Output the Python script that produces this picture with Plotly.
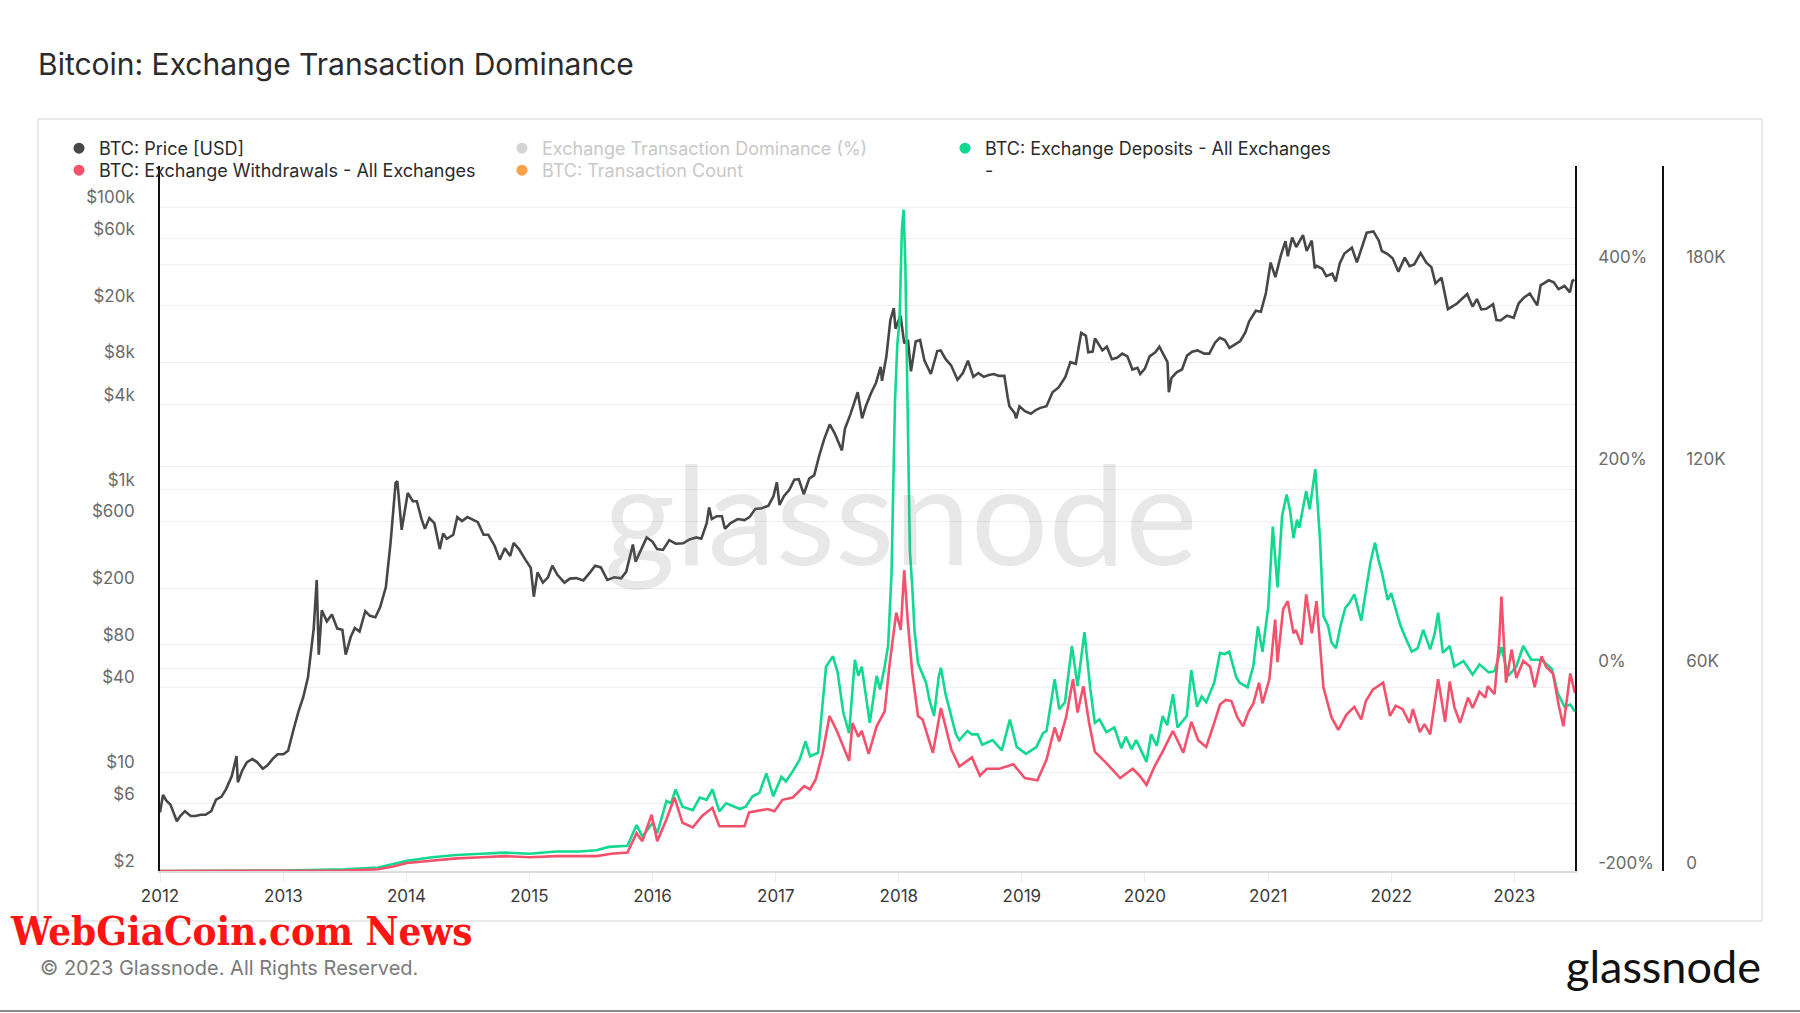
import math
import pandas as pd
import plotly.graph_objects as go

# ---------------- data ----------------
price_dates = [
    "2012-01-01", "2012-01-10", "2012-01-20", "2012-02-01", "2012-02-20", "2012-03-01", "2012-03-15",
    "2012-04-01", "2012-04-15", "2012-05-01", "2012-05-15", "2012-06-01", "2012-06-15", "2012-07-01",
    "2012-07-15", "2012-08-01", "2012-08-15", "2012-08-19", "2012-09-01", "2012-09-15", "2012-10-01",
    "2012-10-15", "2012-11-01", "2012-11-15", "2012-12-01", "2012-12-15", "2013-01-01", "2013-01-15",
    "2013-02-01", "2013-02-15", "2013-03-01", "2013-03-15", "2013-04-01", "2013-04-10", "2013-04-16",
    "2013-04-25", "2013-05-10", "2013-05-25", "2013-06-10", "2013-06-25", "2013-07-05", "2013-07-20",
    "2013-08-01", "2013-08-15", "2013-09-01", "2013-09-15", "2013-10-01", "2013-10-15", "2013-11-01",
    "2013-11-15", "2013-11-30", "2013-12-05", "2013-12-18", "2013-12-25", "2014-01-05", "2014-01-20",
    "2014-02-01", "2014-02-15", "2014-02-25", "2014-03-10", "2014-03-25", "2014-04-10", "2014-04-20",
    "2014-05-01", "2014-05-20", "2014-06-01", "2014-06-15", "2014-07-01", "2014-07-15", "2014-08-01",
    "2014-08-18", "2014-09-01", "2014-09-20", "2014-10-05", "2014-10-20", "2014-11-05", "2014-11-15",
    "2014-12-01", "2014-12-20", "2015-01-05", "2015-01-14", "2015-01-25", "2015-02-10", "2015-02-25",
    "2015-03-10", "2015-03-25", "2015-04-15", "2015-05-01", "2015-05-20", "2015-06-10", "2015-06-30",
    "2015-07-15", "2015-08-01", "2015-08-20", "2015-09-10", "2015-09-30", "2015-10-15", "2015-11-04",
    "2015-11-12", "2015-11-25", "2015-12-15", "2016-01-01", "2016-01-15", "2016-02-01", "2016-02-20",
    "2016-03-10", "2016-04-01", "2016-04-20", "2016-05-10", "2016-05-25", "2016-06-10", "2016-06-17",
    "2016-06-25", "2016-07-10", "2016-07-25", "2016-08-03", "2016-08-20", "2016-09-10", "2016-09-30",
    "2016-10-15", "2016-11-01", "2016-11-20", "2016-12-10", "2016-12-25", "2017-01-04", "2017-01-12",
    "2017-01-25", "2017-02-10", "2017-02-25", "2017-03-10", "2017-03-25", "2017-04-10", "2017-04-25",
    "2017-05-10", "2017-05-25", "2017-06-10", "2017-06-25", "2017-07-16", "2017-07-25", "2017-08-10",
    "2017-08-30", "2017-09-01", "2017-09-14", "2017-09-25", "2017-10-10", "2017-10-25", "2017-11-08",
    "2017-11-12", "2017-11-25", "2017-12-07", "2017-12-17", "2017-12-22", "2018-01-06", "2018-01-17",
    "2018-01-28", "2018-02-06", "2018-02-20", "2018-03-05", "2018-03-18", "2018-04-01", "2018-04-06",
    "2018-04-25", "2018-05-05", "2018-05-20", "2018-06-05", "2018-06-24", "2018-07-10", "2018-07-25",
    "2018-08-10", "2018-08-25", "2018-09-10", "2018-09-25", "2018-10-10", "2018-10-25", "2018-11-10",
    "2018-11-20", "2018-11-25", "2018-12-10", "2018-12-15", "2018-12-25", "2019-01-10", "2019-01-28",
    "2019-02-10", "2019-02-25", "2019-03-15", "2019-04-02", "2019-04-20", "2019-05-10", "2019-05-25",
    "2019-06-10", "2019-06-26", "2019-07-10", "2019-07-17", "2019-07-30", "2019-08-06", "2019-08-28",
    "2019-09-10", "2019-09-25", "2019-10-10", "2019-10-26", "2019-11-10", "2019-11-25", "2019-12-10",
    "2019-12-18", "2020-01-01", "2020-01-15", "2020-02-01", "2020-02-13", "2020-02-28", "2020-03-08",
    "2020-03-12", "2020-03-20", "2020-04-05", "2020-04-20", "2020-05-05", "2020-05-20", "2020-06-05",
    "2020-06-25", "2020-07-10", "2020-07-27", "2020-08-10", "2020-08-25", "2020-09-08", "2020-09-25",
    "2020-10-10", "2020-10-25", "2020-11-05", "2020-11-25", "2020-12-10", "2020-12-25", "2021-01-08",
    "2021-01-22", "2021-02-08", "2021-02-21", "2021-02-28", "2021-03-13", "2021-03-25", "2021-04-14",
    "2021-04-25", "2021-05-10", "2021-05-19", "2021-05-25", "2021-06-10", "2021-06-22", "2021-07-10",
    "2021-07-20", "2021-08-01", "2021-08-15", "2021-09-06", "2021-09-21", "2021-10-05", "2021-10-20",
    "2021-11-09", "2021-11-25", "2021-12-04", "2021-12-20", "2022-01-05", "2022-01-22", "2022-02-10",
    "2022-02-24", "2022-03-10", "2022-03-29", "2022-04-15", "2022-04-30", "2022-05-12", "2022-05-30",
    "2022-06-18", "2022-06-30", "2022-07-15", "2022-08-14", "2022-08-30", "2022-09-12", "2022-09-25",
    "2022-10-10", "2022-10-30", "2022-11-09", "2022-11-21", "2022-12-10", "2022-12-30", "2023-01-14",
    "2023-01-30", "2023-02-16", "2023-03-10", "2023-03-20", "2023-04-13", "2023-04-28", "2023-05-12",
    "2023-05-30", "2023-06-15", "2023-06-22", "2023-06-28",
]
price_usd = [
    5.2, 6.9, 6.3, 5.9, 4.5, 4.9, 5.3,
    4.9, 4.9, 5.0, 5.0, 5.3, 6.4, 6.7,
    7.6, 9.4, 13.0, 8.5, 10.3, 11.8, 12.4,
    11.8, 10.6, 11.2, 12.5, 13.4, 13.4, 14.2,
    20.4, 27, 34, 47, 104, 230, 68,
    140, 117, 131, 104, 102, 68, 91,
    105, 99, 138, 128, 125, 147, 204,
    420, 1120, 1150, 520, 680, 950, 830,
    830, 620, 530, 630, 580, 380, 490,
    450, 480, 640, 600, 640, 620, 590,
    480, 480, 400, 320, 385, 340, 420,
    380, 320, 280, 175, 260, 220, 240,
    290, 250, 220, 235, 237, 228, 260,
    290, 282, 230, 240, 236, 262, 410,
    310, 360, 460, 430, 380, 375, 440,
    415, 418, 445, 460, 450, 580, 750,
    620, 650, 650, 530, 580, 620, 610,
    640, 730, 740, 770, 900, 1130, 780,
    900, 1000, 1180, 1190, 930, 1200, 1270,
    1750, 2300, 2900, 2500, 1900, 2700, 3400,
    4600, 4900, 3200, 3900, 4800, 5700, 7400,
    5900, 8800, 16000, 19300, 13800, 17100, 10900,
    11500, 6900, 11200, 11500, 8200, 6900, 6600,
    9600, 9700, 8400, 7600, 6000, 6700, 8200,
    6300, 6700, 6300, 6500, 6600, 6400, 6400,
    4500, 3900, 3500, 3200, 3900, 3600, 3450,
    3650, 3800, 3900, 4900, 5300, 6300, 8000,
    7800, 12900, 12300, 9400, 9500, 11800, 9700,
    10300, 8400, 8600, 9200, 8800, 7100, 7300,
    6600, 7200, 8800, 9400, 10300, 8700, 8000,
    4900, 6200, 6800, 7100, 8900, 9500, 9700,
    9200, 9200, 11000, 11900, 11500, 10100, 10700,
    11300, 13000, 15500, 18500, 18200, 24700, 40600,
    32000, 46200, 57500, 45000, 61000, 52300, 63500,
    49000, 58000, 37000, 38400, 36700, 32500, 33800,
    29800, 40000, 47000, 51700, 40700, 51000, 66000,
    67500, 58000, 49000, 46800, 43500, 35000, 44000,
    38300, 39400, 47400, 40500, 37700, 28900, 31700,
    19000, 19900, 20800, 24300, 19800, 22400, 18900,
    19100, 20600, 15900, 15800, 17100, 16500, 20900,
    23000, 24500, 20200, 28000, 30400, 29400, 26300,
    27700, 25000, 30000, 30700,
]

# Exchange deposits (count, thousands) - time as decimal year
deposits_year = [
    2012.000, 2013.007, 2013.502, 2013.772, 2013.894, 2014.006, 2014.211, 2014.407, 2014.612, 2014.799,
    2015.004, 2015.218, 2015.405, 2015.545, 2015.647, 2015.797, 2015.871, 2015.918, 2016.002, 2016.039,
    2016.114, 2016.151, 2016.188, 2016.244, 2016.328, 2016.384, 2016.440, 2016.487, 2016.543, 2016.599,
    2016.711, 2016.757, 2016.813, 2016.869, 2016.925, 2016.981, 2017.047, 2017.084, 2017.140, 2017.196,
    2017.243, 2017.280, 2017.345, 2017.373, 2017.410, 2017.466, 2017.504, 2017.550, 2017.597, 2017.644,
    2017.672, 2017.700, 2017.765, 2017.821, 2017.849, 2017.886, 2017.914, 2017.942, 2017.970, 2017.989,
    2018.007, 2018.026, 2018.040, 2018.054, 2018.073, 2018.091, 2018.110, 2018.129, 2018.157, 2018.185,
    2018.222, 2018.250, 2018.287, 2018.325, 2018.343, 2018.381, 2018.427, 2018.465, 2018.493, 2018.558,
    2018.595, 2018.642, 2018.679, 2018.763, 2018.838, 2018.903, 2018.959, 2019.034, 2019.118, 2019.173,
    2019.201, 2019.267, 2019.304, 2019.351, 2019.407, 2019.453, 2019.509, 2019.556, 2019.593, 2019.631,
    2019.687, 2019.752, 2019.808, 2019.845, 2019.892, 2019.929, 2020.013, 2020.050, 2020.097, 2020.144,
    2020.181, 2020.228, 2020.265, 2020.340, 2020.377, 2020.424, 2020.461, 2020.498, 2020.563, 2020.610,
    2020.647, 2020.685, 2020.741, 2020.769, 2020.834, 2020.881, 2020.918, 2020.955, 2021.002, 2021.039,
    2021.077, 2021.114, 2021.151, 2021.179, 2021.207, 2021.235, 2021.254, 2021.291, 2021.310, 2021.338,
    2021.384, 2021.422, 2021.450, 2021.487, 2021.515, 2021.552, 2021.590, 2021.627, 2021.664, 2021.701,
    2021.757, 2021.795, 2021.832, 2021.869, 2021.897, 2021.925, 2021.972, 2022.000, 2022.037, 2022.075,
    2022.121, 2022.168, 2022.215, 2022.261, 2022.317, 2022.354, 2022.382, 2022.420, 2022.476, 2022.513,
    2022.588, 2022.662, 2022.718, 2022.793, 2022.840, 2022.896, 2022.951, 2023.017, 2023.073, 2023.138,
    2023.222, 2023.306, 2023.353, 2023.409, 2023.455, 2023.493,
]
deposits_k = [
    0.0, 0.17, 0.51, 1.02, 2.05, 3.07, 4.09, 4.77, 5.12, 5.46,
    5.12, 5.80, 5.80, 6.14, 7.16, 7.50, 13.64, 10.23, 14.32, 11.25,
    20.80, 20.12, 24.21, 19.10, 18.07, 21.82, 21.14, 24.21, 17.73, 20.12,
    18.41, 19.10, 22.17, 23.19, 28.99, 22.17, 27.96, 26.60, 29.67, 33.08,
    38.53, 34.10, 35.12, 46.04, 60.70, 63.77, 58.99, 47.06, 40.92, 62.74,
    57.97, 60.70, 43.99, 57.97, 53.88, 60.70, 66.84, 88.32, 139.47, 156.52,
    163.34, 190.62, 196.42, 180.39, 129.24, 95.14, 84.57, 71.27, 61.72, 59.33,
    55.92, 50.81, 46.04, 57.63, 60.36, 52.51, 46.04, 40.58, 38.87, 41.60,
    40.58, 40.58, 37.51, 38.87, 35.81, 45.01, 36.83, 34.78, 36.83, 40.92,
    41.60, 56.95, 48.08, 50.13, 66.84, 54.90, 70.93, 54.22, 43.99, 45.01,
    41.26, 42.63, 36.49, 39.90, 36.15, 38.87, 32.40, 40.58, 37.17, 46.04,
    43.31, 52.51, 42.63, 46.04, 59.68, 48.76, 51.83, 50.13, 55.92, 64.79,
    64.45, 65.13, 57.63, 55.92, 54.56, 61.04, 72.63, 65.13, 78.43, 102.30,
    84.23, 105.37, 111.85, 107.07, 98.89, 104.35, 101.96, 108.78, 112.87, 107.42,
    119.35, 98.55, 75.70, 72.97, 67.86, 66.15, 72.97, 78.09, 79.79, 82.18,
    74.34, 83.20, 91.73, 97.53, 92.41, 88.66, 80.48, 82.52, 78.09, 72.97,
    68.88, 65.13, 66.15, 71.61, 65.81, 70.59, 76.73, 64.79, 66.84, 60.70,
    62.40, 58.31, 61.38, 58.99, 59.33, 66.50, 57.97, 60.70, 66.84, 62.74,
    62.74, 60.02, 52.86, 48.76, 49.45, 47.40,
]

# Exchange withdrawals (count, thousands) - time as decimal year
withdrawals_year = [
    2012.000, 2013.007, 2013.502, 2013.772, 2013.894, 2014.006, 2014.211, 2014.407, 2014.612, 2014.799,
    2015.004, 2015.218, 2015.405, 2015.545, 2015.666, 2015.797, 2015.871, 2015.918, 2015.993, 2016.039,
    2016.114, 2016.179, 2016.244, 2016.328, 2016.403, 2016.487, 2016.543, 2016.711, 2016.748, 2016.785,
    2016.869, 2016.935, 2016.991, 2017.056, 2017.140, 2017.233, 2017.280, 2017.327, 2017.383, 2017.438,
    2017.494, 2017.560, 2017.597, 2017.625, 2017.672, 2017.700, 2017.756, 2017.821, 2017.886, 2017.924,
    2017.980, 2018.017, 2018.045, 2018.073, 2018.110, 2018.157, 2018.194, 2018.278, 2018.343, 2018.427,
    2018.493, 2018.595, 2018.660, 2018.716, 2018.819, 2018.931, 2019.024, 2019.127, 2019.201, 2019.267,
    2019.304, 2019.360, 2019.416, 2019.453, 2019.500, 2019.547, 2019.593, 2019.687, 2019.799, 2019.901,
    2019.957, 2020.013, 2020.078, 2020.144, 2020.228, 2020.312, 2020.377, 2020.433, 2020.498, 2020.563,
    2020.610, 2020.657, 2020.703, 2020.750, 2020.797, 2020.843, 2020.881, 2020.927, 2020.955, 2021.011,
    2021.058, 2021.077, 2021.123, 2021.160, 2021.207, 2021.226, 2021.272, 2021.310, 2021.356, 2021.394,
    2021.450, 2021.515, 2021.571, 2021.636, 2021.701, 2021.757, 2021.795, 2021.851, 2021.935, 2021.991,
    2022.037, 2022.093, 2022.149, 2022.177, 2022.233, 2022.271, 2022.317, 2022.382, 2022.438, 2022.476,
    2022.513, 2022.560, 2022.625, 2022.662, 2022.718, 2022.765, 2022.784, 2022.840, 2022.877, 2022.896,
    2022.914, 2022.933, 2022.979, 2023.017, 2023.073, 2023.129, 2023.166, 2023.222, 2023.259, 2023.315,
    2023.362, 2023.399, 2023.427, 2023.455, 2023.493,
]
withdrawals_k = [
    0.0, 0.0, 0.17, 0.51, 1.36, 2.39, 3.07, 3.75, 4.09, 4.43,
    4.09, 4.43, 4.43, 4.43, 5.12, 5.46, 11.25, 8.87, 16.71, 8.87,
    15.35, 21.82, 14.32, 12.96, 16.37, 18.76, 13.30, 13.30, 13.30, 17.39,
    18.07, 18.41, 17.73, 21.14, 21.82, 25.23, 24.21, 27.28, 35.12, 46.04,
    41.94, 36.15, 32.74, 43.99, 39.90, 41.60, 34.78, 42.97, 47.40, 60.70,
    76.73, 71.61, 89.34, 74.68, 58.99, 46.04, 45.01, 35.12, 48.42, 36.15,
    31.03, 33.76, 28.30, 30.35, 30.35, 31.71, 27.62, 26.94, 33.08, 42.63,
    38.53, 45.69, 56.95, 47.06, 54.90, 43.99, 35.46, 32.05, 27.62, 30.35,
    28.30, 25.58, 31.03, 35.46, 41.60, 35.12, 44.33, 38.87, 36.83, 43.99,
    49.45, 50.81, 50.47, 45.69, 42.97, 47.40, 49.79, 55.92, 49.79, 56.95,
    74.68, 62.06, 77.75, 80.14, 70.59, 71.61, 67.18, 82.18, 70.59, 80.14,
    54.56, 45.69, 41.94, 46.38, 48.76, 45.01, 50.47, 53.88, 55.92, 46.04,
    49.10, 48.08, 43.99, 48.08, 41.26, 43.65, 40.58, 56.95, 44.33, 56.27,
    48.76, 43.99, 51.49, 48.42, 53.20, 51.49, 54.90, 52.51, 67.86, 81.50,
    67.86, 55.92, 65.81, 57.29, 62.40, 60.70, 54.56, 63.77, 60.70, 58.65,
    49.10, 42.97, 50.81, 58.65, 52.86,
]

year_ticks = list(range(2012, 2024))
price_tickvals = [2, 6, 10, 40, 80, 200, 600, 1000, 4000, 8000, 20000, 60000, 100000]
price_ticktext = ["$2", "$6", "$10", "$40", "$80", "$200", "$600", "$1k", "$4k", "$8k", "$20k", "$60k", "$100k"]
pct_tickvals = [-200, 0, 200, 400]
pct_ticktext = ["-200%", "0%", "200%", "400%"]
cnt_tickvals = [0, 60, 120, 180]
cnt_ticktext = ["0", "60K", "120K", "180K"]


def to_dates(years):
    base = pd.Timestamp("2012-01-01")
    return [base + pd.Timedelta(days=(y - 2012) * 365.25) for y in years]


# ---------------- style ----------------
C_PRICE = "#474747"
C_DEP = "#12d98f"
C_WD = "#f4516c"
C_DOM = "#d4d4d4"
C_TXC = "#ff9f4a"
FONT = "Inter, Lato, sans-serif"

W, H = 1800, 1013
L, R_, T, B = 160, 1663, 166, 871   # plot box in pixels (x-left, x-end of 2nd axis, top, bottom)
PLOT_RIGHT = 1575
PW, PH = R_ - L, B - T


def px(x):
    return (x - L) / PW


def py(y):
    return (B - y) / PH


fig = go.Figure()

fig.add_trace(go.Scatter(x=pd.to_datetime(price_dates), y=price_usd, mode="lines",
                         line=dict(color=C_PRICE, width=2.6), yaxis="y", showlegend=False,
                         hoverinfo="skip"))
fig.add_trace(go.Scatter(x=to_dates(deposits_year), y=deposits_k, mode="lines",
                         line=dict(color=C_DEP, width=2.6), yaxis="y4", showlegend=False,
                         hoverinfo="skip"))
fig.add_trace(go.Scatter(x=to_dates(withdrawals_year), y=withdrawals_k, mode="lines",
                         line=dict(color=C_WD, width=2.6), yaxis="y4", showlegend=False,
                         hoverinfo="skip"))

# legend entries (dots), two rows
legend_items = [
    ("BTC: Price [USD]", C_PRICE, "y", "legend"),
    ("<span style='color:#c8c8c8'>Exchange Transaction Dominance (%)</span>", C_DOM, "y3", "legend"),
    ("BTC: Exchange Deposits - All Exchanges", C_DEP, "y4", "legend"),
    ("BTC: Exchange Withdrawals - All Exchanges", C_WD, "y4", "legend2"),
    ("<span style='color:#c8c8c8'>BTC: Transaction Count</span>", C_TXC, "y4", "legend2"),
    ("-", "rgba(0,0,0,0)", "y", "legend2"),
]
for name, col, ax, lg in legend_items:
    fig.add_trace(go.Scatter(x=[None], y=[None], mode="markers", name=name, yaxis=ax, legend=lg,
                             marker=dict(color=col, size=11, symbol="circle"), hoverinfo="skip"))

legend_common = dict(orientation="h", xanchor="left", yanchor="top",
                     entrywidth=398, entrywidthmode="pixels", itemwidth=30,
                     font=dict(family=FONT, size=18, color="#2b2b2b"), bgcolor="rgba(0,0,0,0)",
                     traceorder="normal", itemclick=False, itemdoubleclick=False)

fig.update_layout(
    width=W, height=H,
    margin=dict(l=L, r=W - R_, t=T, b=H - B, pad=0),
    paper_bgcolor="white", plot_bgcolor="white",
    font=dict(family=FONT, size=16, color="#333333"),
    title=dict(text="Bitcoin: Exchange Transaction Dominance", x=38 / W, xanchor="left",
               y=1 - 64 / H, yanchor="middle", font=dict(family=FONT, size=30, color="#2b2b2b")),
    showlegend=True,
    legend=dict(x=px(59), y=py(130), **legend_common),
    legend2=dict(x=px(59), y=py(152), **legend_common),
    xaxis=dict(type="date", domain=[0, (PLOT_RIGHT - L) / PW],
               range=["2012-01-01", "2023-06-30"],
               tickvals=[pd.Timestamp(f"{y}-01-01") for y in year_ticks],
               ticktext=[str(y) for y in year_ticks],
               showgrid=False, zeroline=False, showline=True, linecolor="#dcdcdc", linewidth=2,
               ticks="outside", ticklen=9, tickcolor="#ececec", tickwidth=1,
               tickfont=dict(family=FONT, size=17, color="#3a3a3a")),
    yaxis=dict(type="log", range=[math.log10(2), 5.292],
               tickvals=price_tickvals, ticktext=price_ticktext,
               showgrid=True, gridcolor="#efefef", gridwidth=1, zeroline=False,
               showline=True, linecolor="#111111", linewidth=1.6, ticks="",
               ticklabelstandoff=20, ticklabelshift=-10,
               tickfont=dict(family=FONT, size=17, color="#6b6b6b")),
    yaxis3=dict(overlaying="y", side="right", anchor="x", range=[-200, 498],
                tickvals=pct_tickvals, ticktext=pct_ticktext,
                showgrid=True, gridcolor="#efefef", gridwidth=1, zeroline=False,
                showline=True, linecolor="#111111", linewidth=1.6, ticks="",
                ticklabelstandoff=18, ticklabelshift=-8,
                tickfont=dict(family=FONT, size=17, color="#6b6b6b")),
    yaxis4=dict(overlaying="y", side="right", anchor="free", position=1.0, range=[0, 209.4],
                tickvals=cnt_tickvals, ticktext=cnt_ticktext,
                showgrid=False, zeroline=False,
                showline=True, linecolor="#111111", linewidth=1.6, ticks="",
                ticklabelstandoff=19, ticklabelshift=-8,
                tickfont=dict(family=FONT, size=17, color="#6b6b6b")),
)

# outer frame around the chart card
fig.add_shape(type="rect", xref="paper", yref="paper",
              x0=px(38), x1=px(1762), y0=py(921), y1=py(119),
              line=dict(color="#e4e4e4", width=1.5), fillcolor="rgba(0,0,0,0)", layer="below")
# bottom border line of the image
fig.add_shape(type="line", xref="paper", yref="paper",
              x0=px(0), x1=px(1800), y0=py(1011), y1=py(1011),
              line=dict(color="#8a8a8a", width=2))

# central watermark
fig.add_annotation(text="glassnode", xref="paper", yref="paper", x=px(900), y=py(512),
                   xanchor="center", yanchor="middle", showarrow=False,
                   font=dict(family="Lato, Inter, sans-serif", size=137, color="rgba(120,120,120,0.17)"))
# footer
fig.add_annotation(text="© 2023 Glassnode. All Rights Reserved.", xref="paper", yref="paper",
                   x=px(38), y=py(968), xanchor="left", yanchor="middle", showarrow=False,
                   font=dict(family=FONT, size=20, color="#7a7a7a"))
fig.add_annotation(text="glassnode", xref="paper", yref="paper",
                   x=px(1763), y=py(966), xanchor="right", yanchor="middle", showarrow=False,
                   font=dict(family="Lato, Inter, sans-serif", size=45, color="#111111"))
fig.add_annotation(text="<b>WebGiaCoin.com News</b>", xref="paper", yref="paper",
                   x=px(9), y=py(931), xanchor="left", yanchor="middle", showarrow=False,
                   borderpad=0,
                   font=dict(family="DejaVu Serif Condensed, Liberation Sans Narrow, serif", size=40,
                             color="#ff1414"))

fig.write_html("out.html", config={"displayModeBar": False},
               post_script="document.body.style.margin='0px';document.body.style.padding='0px';")
